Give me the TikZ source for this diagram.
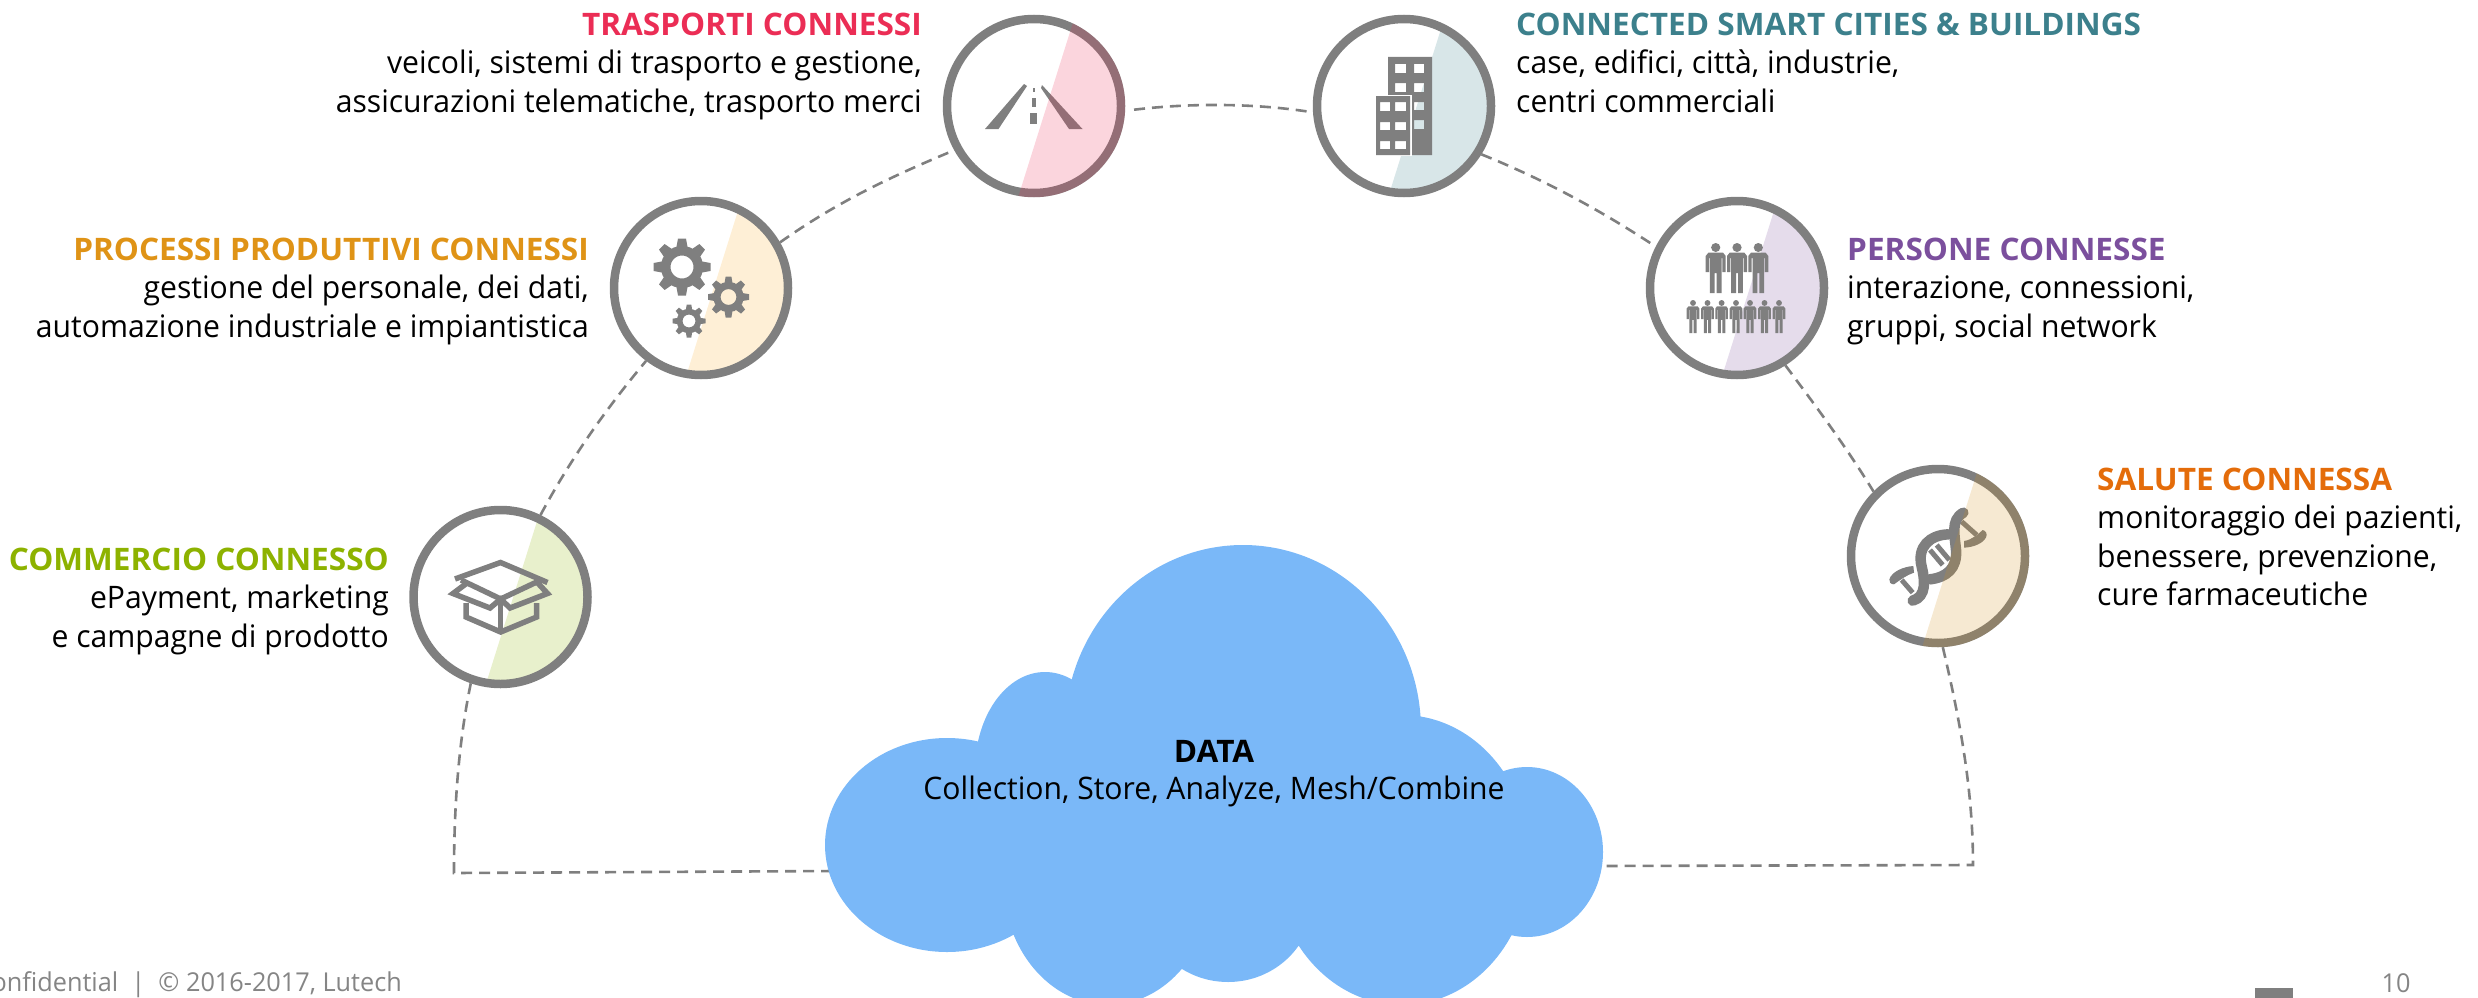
\documentclass[tikz,border=0pt]{standalone}
\usepackage{fontspec}
\setmainfont[FakeStretch=0.972]{Open Sans}
\newfontfamily\titlefont[FakeStretch=1.018]{Open Sans}
\definecolor{ringgray}{HTML}{7F7F7F}
\definecolor{cloudblue}{HTML}{7AB8F8}
\definecolor{ctras}{HTML}{EB2D55}
\definecolor{cproc}{HTML}{DF9316}
\definecolor{ccomm}{HTML}{8DB200}
\definecolor{cconn}{HTML}{3C808C}
\definecolor{cpers}{HTML}{7B4F9D}
\definecolor{csalt}{HTML}{E46C0A}
\definecolor{csalw}{HTML}{D2911E}
\definecolor{cprow}{HTML}{FAB030}
\tikzset{
  ring/.style={circle,draw=ringgray,line width=8.5pt,minimum size=174pt,inner sep=0pt},
  link/.style={draw=ringgray,line width=2.6pt,dash pattern=on 11pt off 7pt},
  rtext/.style={anchor=base east,inner sep=0pt,font=\fontsize{31}{36}\selectfont},
  ltext/.style={anchor=base west,inner sep=0pt,font=\fontsize{31}{36}\selectfont},
  rtitle/.style={rtext,font=\fontsize{31}{36}\selectfont\titlefont\bfseries},
  ltitle/.style={ltext,font=\fontsize{31}{36}\selectfont\titlefont\bfseries},
  foot/.style={inner sep=0pt,text=ringgray!95,font=\fontsize{26}{30}\selectfont},
}
\newcommand{\wedgeat}[4]{%
  \begin{scope}
    \clip (#1,#2) circle[radius=#4];
    \fill[#3,opacity=.2] (#1+45.8,#2-105.2) -- (#1-22.8,#2+113.2) -- (#1+120,#2+113.2) -- (#1+120,#2-105.2) -- cycle;
  \end{scope}}
\newcommand{\gearicon}[4]{% x y outer hole
  \begin{scope}[shift={(#1,#2)}]
    \pgfmathsetmacro{\bodyr}{0.74*#3}
    \pgfmathsetmacro{\midr}{(\bodyr+#4)/2}
    \pgfmathsetmacro{\ringw}{\bodyr-#4}
    \pgfmathsetmacro{\toothw}{0.2*#3}
    \draw[ringgray,line width=\ringw pt] (0,0) circle[radius=\midr];
    \foreach \a in {0,45,...,315}{
      \fill[ringgray,rotate=\a] (\bodyr-2,-\toothw) -- (#3,-0.7*\toothw) -- (#3,0.7*\toothw) -- (\bodyr-2,\toothw) -- cycle;
    }
  \end{scope}}
\newcommand{\personicon}[4]{% x ytop width height
  \begin{scope}[shift={(#1,#2)},xscale=#3,yscale=#4]
    \fill[ringgray] (0,.09) ellipse[x radius=.23,y radius=.09];
    \fill[ringgray] (-.5,.26) -- (-.36,.19) -- (.36,.19) -- (.5,.26) -- (.5,.58) -- (.33,.58) -- (.33,.3) -- (.29,.3) -- (.29,1) -- (.05,1) -- (.05,.6) -- (-.05,.6) -- (-.05,1) -- (-.29,1) -- (-.29,.3) -- (-.33,.3) -- (-.33,.58) -- (-.5,.58) -- cycle;
  \end{scope}}
\begin{document}
\begin{tikzpicture}[x=1pt,y=-1pt]
\useasboundingbox (0,0) rectangle (2478,998);
\clip (0,0) rectangle (2478,998);
% wedges beneath rings
\wedgeat{500.5}{597}{ccomm}{88}
\wedgeat{701}{288}{cprow}{88}
\wedgeat{1404}{106}{cconn}{88}
\wedgeat{1737}{288}{cpers}{88}
% rings
\node[ring] (comm) at (500.5,597) {};
\node[ring] (proc) at (701,288) {};
\node[ring] (tras) at (1034,106) {};
\node[ring] (conn) at (1404,106) {};
\node[ring] (pers) at (1737,288) {};
\node[ring] (salu) at (1938,556) {};
% free ends of the arc
\coordinate (cornerL) at (454,873);
\coordinate (cornerR) at (1973,865);
\coordinate (cloudL) at (835,871);
\coordinate (cloudR) at (1595,866);
% connectors
\draw[link] (comm.-109) .. controls (458,745) and (454,810) .. (cornerL) -- (cloudL);
\draw[link] (comm.64) .. controls (570,460) and (605,410) .. (proc.-127);
\draw[link] (proc.30) .. controls (840,200) and (895,175) .. (tras.209);
\draw[link,shorten <=9pt] (tras.-3) .. controls (1190,103) and (1255,103) .. (conn.184);
\draw[link] (conn.-32) .. controls (1545,180) and (1600,210) .. (pers.153);
\draw[link] (pers.-58) .. controls (1815,405) and (1845,445) .. (salu.135);
\draw[link] (salu.-87) .. controls (1960,720) and (1973,790) .. (cornerR) -- (cloudR);
% cloud
\fill[cloudblue]
  (1243,730) ellipse[x radius=178,y radius=185]
  (1045,770) ellipse[x radius=70,y radius=98]
  (947,845) ellipse[x radius=122,y radius=107]
  (1402,860) ellipse[x radius=128,y radius=145]
  (1527,852) ellipse[x radius=76,y radius=85]
  (1108,880) ellipse[x radius=105,y radius=125]
  (1228,900) ellipse[x radius=85,y radius=82];
\node[rtitle,anchor=base,text=black] (dataT) at (1214,762) {DATA};
\node[rtext,anchor=base,text=black] (dataB) at (1214,799) {Collection, Store, Analyze, Mesh/Combine};
% road icon
\fill[ringgray] (985,129) -- (998.5,129) -- (1027,86) -- (1024,84) -- cycle;
\fill[ringgray] (1042,85) -- (1082.5,129) -- (1069,129) -- (1041,88) -- cycle;
\fill[ringgray] (1032.5,88) rectangle (1034.5,92);
\fill[ringgray] (1031.5,98) rectangle (1035.5,107);
\fill[ringgray] (1030,113) rectangle (1037,124);
% gears
\gearicon{682}{267}{28.5}{11.5}
\gearicon{728.5}{297}{20.5}{8}
\gearicon{689}{321}{16.5}{6.5}
% box
\begin{scope}[line width=5.5pt,draw=ringgray,line join=miter]
  \draw (455,579) -- (500.5,562.5) -- (547.5,582.5);
  \draw (461,580) -- (500.7,599) -- (541,580);
  \draw (467,583) -- (453,593.5) -- (490,608) -- (500.7,599) -- (510,608) -- (547.5,593.5) -- (535,580);
  \draw (466,603) -- (466,617) -- (500.7,632) -- (536.7,617) -- (536.7,603);
  \draw (500.7,599) -- (500.7,632);
\end{scope}
% buildings
\fill[ringgray,even odd rule] (1388,57) rectangle (1432,155)
  (1395,64) rectangle (1406,73) (1414,64) rectangle (1424,73)
  (1395,83) rectangle (1406,92) (1414,83) rectangle (1424,92)
  (1414,102) rectangle (1424,110) (1414,120) rectangle (1424,129);
\fill[white] (1374,94.5) rectangle (1412,156);
\fill[ringgray,even odd rule] (1376,96) rectangle (1410,155)
  (1380,102) rectangle (1390,111) (1395,102) rectangle (1406,111)
  (1380,122) rectangle (1390,130) (1395,122) rectangle (1406,130)
  (1380,141) rectangle (1390,149) (1395,141) rectangle (1406,149);
% people
\foreach \px in {1715.7,1737,1758.3}{\personicon{\px}{243}{20}{50}}
\foreach \px in {1693,1707.5,1721.6,1736,1750,1764.5,1779}{\personicon{\px}{300}{12.7}{33}}
% DNA
\begin{scope}[shift={(1820,440)},scale=1/3,ringgray,line cap=round]
  \draw[line width=10.5pt] (278,482) .. controls (320,470) and (315,420) .. (305,380) .. controls (290,320) and (330,285) .. (385,283);
  \draw[line width=10.5pt] (430,218) .. controls (390,240) and (405,290) .. (408,330) .. controls (412,385) and (380,412) .. (330,418);
  \draw[line width=5pt,line cap=butt] (245,420) -- (278,458);
  \draw[line width=5pt,line cap=butt] (330,330) -- (368,375);
  \draw[line width=5pt,line cap=butt] (350,315) -- (388,360);
  \draw[line width=5pt,line cap=butt] (425,245) -- (470,285);
  \fill (208,418) .. controls (215,395) and (250,380) .. (280,378) -- (282,398) .. controls (260,405) and (240,420) .. (222,433) .. controls (212,433) and (206,426) .. (208,418) -- cycle;
  \fill (432,303) .. controls (455,300) and (475,282) .. (488,270) .. controls (498,272) and (503,283) .. (498,292) .. controls (490,310) and (460,322) .. (432,323) -- cycle;
\end{scope}
% tinted wedges on top
\wedgeat{1034}{106}{ctras}{91.2}
\wedgeat{1938}{556}{csalw}{91.2}
% labels
\node[rtitle,text=ctras] (t1) at (922,35.5) {TRASPORTI CONNESSI};
\node[rtext] (t2) at (922,74) {veicoli, sistemi di trasporto e gestione,};
\node[rtext] (t3) at (922,112) {assicurazioni telematiche, trasporto merci};
\node[rtitle,text=cproc] (p1) at (589,260.5) {PROCESSI PRODUTTIVI CONNESSI};
\node[rtext] (p2) at (589,298) {gestione del personale, dei dati,};
\node[rtext] (p3) at (589,337) {automazione industriale e impiantistica};
\node[rtitle,text=ccomm] (c1) at (389,570.5) {COMMERCIO CONNESSO};
\node[rtext] (c2) at (389,608) {ePayment, marketing};
\node[rtext] (c3) at (389,647) {e campagne di prodotto};
\node[ltitle,text=cconn] (n1) at (1516,35.5) {CONNECTED SMART CITIES \& BUILDINGS};
\node[ltext] (n2) at (1516,74) {case, edifici, città, industrie,};
\node[ltext] (n3) at (1516,112) {centri commerciali};
\node[ltitle,text=cpers] (r1) at (1847,260.5) {PERSONE CONNESSE};
\node[ltext] (r2) at (1847,298) {interazione, connessioni,};
\node[ltext] (r3) at (1847,337) {gruppi, social network};
\node[ltitle,text=csalt] (s1) at (2097,490.5) {SALUTE CONNESSA};
\node[ltext] (s2) at (2097,528) {monitoraggio dei pazienti,};
\node[ltext] (s3) at (2097,567) {benessere, prevenzione,};
\node[ltext] (s4) at (2097,605) {cure farmaceutiche};
% footer
\node[foot,anchor=base east] (f1) at (402,991) {Confidential\ \ |\ \ © 2016-2017, Lutech};
\node[foot,anchor=base] (f2) at (2396,992) {10};
\fill[ringgray] (2255,988) rectangle (2293,998);
\end{tikzpicture}
\end{document}
